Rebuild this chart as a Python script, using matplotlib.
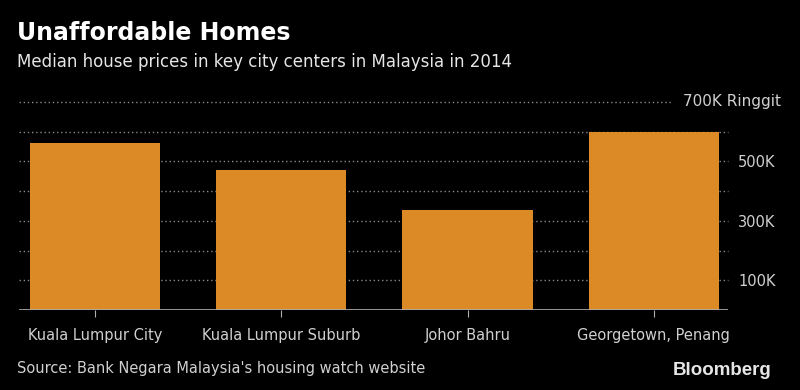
import matplotlib
matplotlib.use("Agg")
import matplotlib.pyplot as plt

categories = ["Kuala Lumpur City", "Kuala Lumpur Suburb", "Johor Bahru", "Georgetown, Penang"]
values = [561, 470, 337, 600]  # thousand ringgit
grid_vals = [100, 200, 300, 400, 500, 600, 700]
tick_vals = [100, 300, 500]
tick_labels = ["100K", "300K", "500K"]
top_label = "700K Ringgit"

BG = "#000000"
BAR = "#DB8A26"
GRID = "#8a8a8a"
TXT = "#d0d0d0"

plt.rcParams['font.family'] = ['DejaVu Sans']

fig = plt.figure(figsize=(8, 3.9), dpi=100, facecolor=BG)
ax = fig.add_axes([0.0243, 0.205, 0.886, 0.5335], facecolor=BG)

x = list(range(len(categories)))
ax.set_xlim(-0.406, 3.40)
ax.set_ylim(0, 700)

for g in grid_vals[:-1]:
    ax.axhline(g, color=GRID, lw=1.0, ls=(0, (1, 2)), zorder=0, clip_on=False)
ax.plot([-0.406, 3.09], [700, 700], color=GRID, lw=1.0, ls=(0, (1, 2)), zorder=0, clip_on=False)

ax.bar(x, values, width=0.70, color=BAR, zorder=2)

ax.axhline(0, color="#b0b0b0", lw=1.2, zorder=3)

for s in ax.spines.values():
    s.set_visible(False)

ax.set_xticks(x)
ax.set_xticklabels(categories, fontsize=10.5, color=TXT)
ax.tick_params(axis='x', length=5, color="#b0b0b0", pad=8)
ax.yaxis.tick_right()
ax.set_yticks(tick_vals)
ax.set_yticklabels(tick_labels, fontsize=10.5, color=TXT)
ax.tick_params(axis='y', length=0, pad=7)

ax.text(3.155, 700, top_label, fontsize=11, color=TXT, va='center', ha='left', clip_on=False)

fig.text(0.021, 0.915, "Unaffordable Homes", fontsize=17, fontweight='bold', color="#ffffff", va='center')
fig.text(0.021, 0.84, "Median house prices in key city centers in Malaysia in 2014", fontsize=12, color="#e6e6e6", va='center')
fig.text(0.021, 0.055, "Source: Bank Negara Malaysia's housing watch website", fontsize=10.5, color=TXT, va='center')
fig.text(0.965, 0.05, "Bloomberg", fontsize=13.5, fontweight='bold', color="#e6e6e6", va='center', ha='right',
         family='Liberation Sans')

fig.savefig("out.png", dpi=100, facecolor=BG)
